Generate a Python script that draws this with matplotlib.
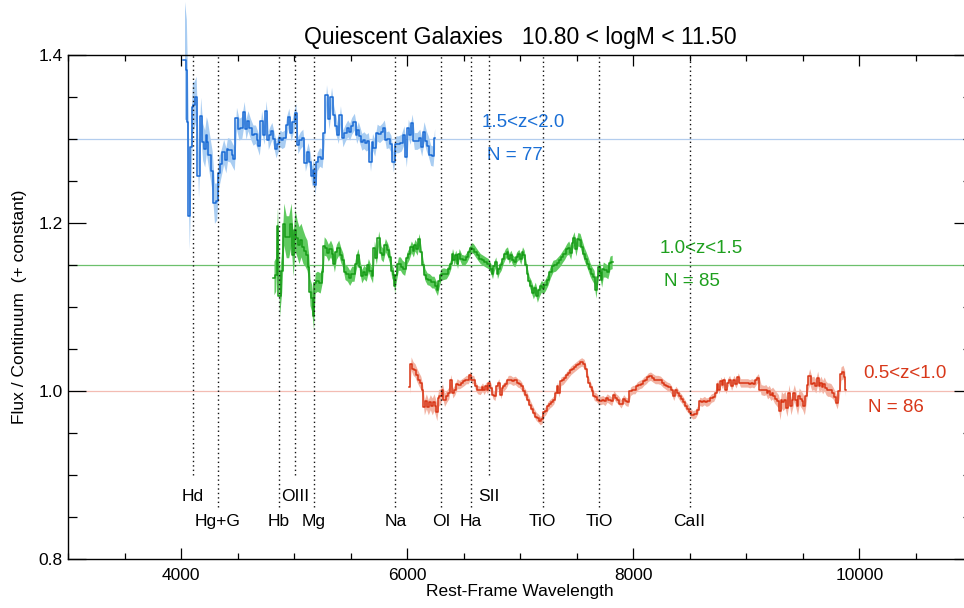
import numpy as np
import matplotlib
matplotlib.use("Agg")
import matplotlib.pyplot as plt
from matplotlib.ticker import MultipleLocator, FormatStrFormatter

plt.rcParams['font.family'] = ['Liberation Sans', 'DejaVu Sans']

title = "Quiescent Galaxies   10.80 < logM < 11.50"
xlabel = "Rest-Frame Wavelength"
ylabel = "Flux / Continuum  (+ constant)"

# ---- 1.5<z<2.0 (offset +0.3) ----
blue_wave = [4018, 4039, 4050, 4062, 4080, 4092, 4106, 4121, 4142, 4163,
             4180, 4198, 4216, 4227, 4239, 4263, 4283, 4304, 4322, 4339,
             4363, 4387, 4402, 4416, 4446, 4460, 4478, 4499, 4522, 4549,
             4564, 4581, 4599, 4623, 4646, 4667, 4682, 4699, 4723, 4741,
             4761, 4779, 4794, 4809, 4829, 4847, 4865, 4882, 4903, 4924,
             4942, 4962, 4982, 5006, 5021, 5042, 5065, 5086, 5110, 5133,
             5148, 5163, 5177, 5192, 5212, 5236, 5257, 5274, 5296, 5319,
             5340, 5358, 5381, 5398, 5419, 5440, 5464, 5481, 5499, 5517,
             5546, 5558, 5575, 5590, 5605, 5626, 5647, 5664, 5685, 5700,
             5723, 5744, 5765, 5788, 5805, 5823, 5847, 5862, 5891, 5906,
             5935, 5959, 5983, 6000, 6018, 6033, 6053, 6071, 6101, 6119,
             6136, 6160, 6177, 6195, 6219, 6236]
blue_end = 6248
blue_flux = [1.394, 1.383, 1.321, 1.209, 1.291, 1.339, 1.341, 1.350, 1.256, 1.328,
             1.297, 1.289, 1.305, 1.297, 1.281, 1.262, 1.224, 1.226, 1.260, 1.271,
             1.285, 1.275, 1.288, 1.287, 1.281, 1.277, 1.325, 1.312, 1.314, 1.332,
             1.312, 1.322, 1.313, 1.305, 1.306, 1.299, 1.292, 1.322, 1.305, 1.334,
             1.299, 1.305, 1.310, 1.300, 1.288, 1.295, 1.301, 1.299, 1.301, 1.317,
             1.326, 1.308, 1.321, 1.331, 1.293, 1.299, 1.302, 1.272, 1.285, 1.273,
             1.256, 1.264, 1.246, 1.273, 1.279, 1.277, 1.308, 1.353, 1.324, 1.350,
             1.329, 1.316, 1.305, 1.329, 1.301, 1.308, 1.313, 1.309, 1.316, 1.321,
             1.305, 1.311, 1.304, 1.297, 1.299, 1.296, 1.298, 1.273, 1.297, 1.290,
             1.308, 1.306, 1.309, 1.313, 1.299, 1.300, 1.295, 1.273, 1.294, 1.294,
             1.296, 1.305, 1.279, 1.313, 1.305, 1.319, 1.298, 1.298, 1.301, 1.291,
             1.309, 1.298, 1.292, 1.281, 1.280, 1.301]
blue_err = [0.070, 0.060, 0.050, 0.040, 0.035, 0.030, 0.028, 0.025, 0.025, 0.022,
            0.022, 0.022, 0.022, 0.024, 0.024, 0.024, 0.024, 0.022, 0.018, 0.016,
            0.015, 0.015, 0.014, 0.014, 0.014, 0.014, 0.013, 0.013, 0.013, 0.013,
            0.012, 0.012, 0.012, 0.012, 0.011, 0.011, 0.011, 0.012, 0.011, 0.012,
            0.011, 0.011, 0.010, 0.010, 0.010, 0.010, 0.010, 0.010, 0.010, 0.011,
            0.011, 0.010, 0.011, 0.012, 0.010, 0.010, 0.010, 0.010, 0.011, 0.011,
            0.012, 0.012, 0.012, 0.011, 0.011, 0.011, 0.012, 0.012, 0.012, 0.012,
            0.011, 0.011, 0.010, 0.011, 0.010, 0.010, 0.010, 0.010, 0.010, 0.010,
            0.010, 0.010, 0.010, 0.010, 0.010, 0.010, 0.010, 0.011, 0.010, 0.010,
            0.010, 0.010, 0.010, 0.010, 0.010, 0.010, 0.010, 0.012, 0.010, 0.010,
            0.010, 0.011, 0.012, 0.011, 0.011, 0.011, 0.010, 0.010, 0.011, 0.011,
            0.012, 0.012, 0.012, 0.012, 0.012, 0.012]

# ---- 1.0<z<1.5 (offset +0.15) ----
green_wave = [4814, 4826, 4844, 4858, 4880, 4897, 4918, 4939, 4962, 4982,
              4997, 5015, 5033, 5050, 5068, 5086, 5104, 5121, 5133, 5145,
              5163, 5177, 5192, 5216, 5242, 5257, 5272, 5292, 5310, 5331,
              5346, 5364, 5381, 5405, 5419, 5440, 5458, 5481, 5499, 5520,
              5537, 5552, 5575, 5588, 5605, 5626, 5647, 5664, 5685, 5700,
              5718, 5735, 5759, 5777, 5794, 5818, 5836, 5853, 5871, 5882,
              5894, 5912, 5930, 5947, 5965, 5988, 6009, 6024, 6048, 6059,
              6077, 6097, 6112, 6130, 6148, 6165, 6186, 6207, 6228, 6245,
              6260, 6274, 6289, 6307, 6334, 6357, 6378, 6393, 6407, 6422,
              6437, 6452, 6466, 6496, 6517, 6540, 6558, 6575, 6593, 6614,
              6634, 6658, 6681, 6703, 6732, 6747, 6761, 6776, 6791, 6805,
              6820, 6841, 6858, 6879, 6894, 6909, 6924, 6944, 6959, 6977,
              6997, 7012, 7027, 7042, 7057, 7071, 7086, 7107, 7124, 7142,
              7160, 7177, 7195, 7212, 7234, 7254, 7278, 7301, 7322, 7343,
              7361, 7381, 7402, 7420, 7437, 7455, 7469, 7484, 7499, 7520,
              7537, 7555, 7573, 7591, 7608, 7626, 7644, 7662, 7676, 7691,
              7704, 7714, 7726, 7743, 7765, 7785, 7803]
green_end = 7823
green_flux = [1.135, 1.139, 1.197, 1.114, 1.143, 1.199, 1.184, 1.184, 1.199, 1.162,
              1.192, 1.182, 1.174, 1.180, 1.172, 1.167, 1.162, 1.148, 1.118, 1.111,
              1.090, 1.129, 1.131, 1.129, 1.142, 1.173, 1.171, 1.165, 1.170, 1.164,
              1.152, 1.166, 1.171, 1.162, 1.156, 1.142, 1.140, 1.135, 1.140, 1.140,
              1.152, 1.162, 1.148, 1.137, 1.142, 1.139, 1.150, 1.143, 1.137, 1.171,
              1.159, 1.183, 1.165, 1.162, 1.174, 1.168, 1.160, 1.143, 1.139, 1.125,
              1.139, 1.152, 1.152, 1.148, 1.146, 1.159, 1.164, 1.172, 1.167, 1.174,
              1.169, 1.181, 1.166, 1.150, 1.139, 1.134, 1.133, 1.130, 1.130, 1.125,
              1.121, 1.131, 1.139, 1.140, 1.140, 1.145, 1.152, 1.164, 1.156, 1.162,
              1.152, 1.164, 1.157, 1.156, 1.160, 1.166, 1.171, 1.170, 1.166, 1.162,
              1.158, 1.156, 1.154, 1.152, 1.146, 1.140, 1.149, 1.154, 1.140, 1.146,
              1.150, 1.158, 1.164, 1.166, 1.158, 1.162, 1.156, 1.154, 1.160, 1.163,
              1.157, 1.166, 1.162, 1.150, 1.140, 1.131, 1.125, 1.117, 1.123, 1.113,
              1.120, 1.125, 1.123, 1.127, 1.133, 1.142, 1.149, 1.150, 1.153, 1.156,
              1.160, 1.164, 1.169, 1.171, 1.165, 1.177, 1.182, 1.169, 1.181, 1.180,
              1.172, 1.164, 1.158, 1.152, 1.145, 1.140, 1.136, 1.120, 1.136, 1.148,
              1.141, 1.133, 1.145, 1.144, 1.142, 1.153, 1.154]
green_err = [0.020, 0.020, 0.022, 0.025, 0.025, 0.025, 0.025, 0.025, 0.025, 0.025,
             0.025, 0.022, 0.022, 0.020, 0.020, 0.018, 0.018, 0.016, 0.016, 0.016,
             0.016, 0.012, 0.012, 0.012, 0.011, 0.011, 0.010, 0.010, 0.010, 0.010,
             0.010, 0.009, 0.009, 0.009, 0.009, 0.009, 0.009, 0.009, 0.009, 0.009,
             0.009, 0.008, 0.008, 0.008, 0.008, 0.008, 0.008, 0.008, 0.008, 0.008,
             0.008, 0.008, 0.008, 0.008, 0.008, 0.008, 0.008, 0.008, 0.008, 0.008,
             0.008, 0.008, 0.008, 0.008, 0.008, 0.007, 0.007, 0.007, 0.007, 0.007,
             0.007, 0.007, 0.007, 0.007, 0.007, 0.007, 0.007, 0.007, 0.007, 0.007,
             0.007, 0.007, 0.007, 0.007, 0.006, 0.006, 0.006, 0.006, 0.006, 0.006,
             0.006, 0.006, 0.006, 0.006, 0.006, 0.006, 0.006, 0.006, 0.006, 0.006,
             0.006, 0.006, 0.006, 0.006, 0.006, 0.006, 0.006, 0.006, 0.006, 0.006,
             0.006, 0.006, 0.006, 0.006, 0.006, 0.006, 0.006, 0.006, 0.006, 0.006,
             0.006, 0.006, 0.006, 0.006, 0.006, 0.006, 0.007, 0.007, 0.007, 0.007,
             0.007, 0.007, 0.007, 0.007, 0.007, 0.007, 0.007, 0.007, 0.007, 0.007,
             0.007, 0.007, 0.007, 0.008, 0.008, 0.008, 0.008, 0.008, 0.008, 0.008,
             0.008, 0.008, 0.008, 0.008, 0.008, 0.008, 0.008, 0.009, 0.009, 0.009,
             0.009, 0.009, 0.009, 0.008, 0.008, 0.008, 0.008]

# ---- 0.5<z<1.0 (offset 0) ----
red_wave = [6015, 6024, 6044, 6059, 6077, 6095, 6112, 6127, 6142, 6160,
            6177, 6195, 6212, 6230, 6242, 6254, 6269, 6283, 6304, 6319,
            6340, 6357, 6378, 6393, 6413, 6431, 6451, 6473, 6496, 6513,
            6531, 6549, 6564, 6579, 6596, 6614, 6632, 6658, 6673, 6688,
            6703, 6717, 6732, 6750, 6767, 6785, 6803, 6820, 6835, 6850,
            6867, 6885, 6903, 6924, 6944, 6968, 6986, 7004, 7021, 7042,
            7062, 7080, 7097, 7115, 7133, 7150, 7168, 7186, 7204, 7216,
            7234, 7251, 7269, 7287, 7307, 7322, 7336, 7351, 7369, 7387,
            7404, 7422, 7440, 7457, 7475, 7493, 7511, 7528, 7558, 7573,
            7588, 7602, 7617, 7632, 7646, 7664, 7681, 7699, 7720, 7741,
            7758, 7779, 7800, 7818, 7838, 7858, 7876, 7906, 7924, 7941,
            7965, 7986, 8006, 8024, 8044, 8066, 8083, 8104, 8124, 8142,
            8163, 8183, 8207, 8230, 8251, 8272, 8290, 8310, 8331, 8349,
            8367, 8384, 8402, 8420, 8438, 8458, 8479, 8496, 8514, 8538,
            8561, 8579, 8597, 8620, 8637, 8655, 8679, 8703, 8720, 8738,
            8752, 8767, 8782, 8796, 8811, 8826, 8843, 8861, 8879, 8900,
            8920, 8938, 8959, 8980, 9003, 9021, 9039, 9057, 9077, 9098,
            9116, 9146, 9166, 9181, 9196, 9210, 9225, 9240, 9258, 9275,
            9293, 9305, 9316, 9334, 9352, 9369, 9387, 9402, 9417, 9432,
            9446, 9461, 9476, 9491, 9505, 9523, 9535, 9550, 9571, 9588,
            9606, 9624, 9639, 9653, 9668, 9683, 9697, 9712, 9727, 9741,
            9759, 9776, 9794, 9815, 9829, 9847, 9865, 9876]
red_end = 9880
red_flux = [1.005, 1.033, 1.027, 1.025, 1.019, 1.014, 1.010, 1.001, 0.981, 0.988,
            0.981, 0.987, 0.982, 0.987, 0.982, 0.975, 0.992, 0.994, 1.001, 0.990,
            0.994, 0.998, 1.013, 0.998, 1.002, 1.009, 1.008, 1.010, 1.012, 1.014,
            1.014, 1.019, 1.014, 1.014, 1.006, 1.002, 1.001, 1.005, 1.001, 1.006,
            1.002, 1.010, 1.004, 0.996, 0.994, 1.006, 1.010, 0.996, 1.004, 1.006,
            1.009, 1.014, 1.014, 1.012, 1.013, 1.010, 1.009, 1.006, 1.000, 0.996,
            0.990, 0.984, 0.979, 0.974, 0.970, 0.968, 0.965, 0.967, 0.975, 0.977,
            0.982, 0.985, 0.987, 0.990, 0.998, 1.006, 0.998, 1.012, 1.013, 1.016,
            1.019, 1.022, 1.025, 1.027, 1.029, 1.031, 1.033, 1.035, 1.033, 1.026,
            1.017, 1.010, 1.005, 1.000, 0.994, 0.993, 0.990, 0.989, 0.990, 0.988,
            0.992, 0.990, 0.988, 0.996, 0.992, 0.990, 0.985, 0.991, 0.988, 0.987,
            1.000, 1.002, 1.002, 1.006, 1.008, 1.009, 1.012, 1.014, 1.017, 1.018,
            1.016, 1.014, 1.014, 1.013, 1.010, 1.008, 1.006, 1.005, 1.001, 0.994,
            1.001, 0.998, 0.994, 0.991, 0.987, 0.982, 0.979, 0.975, 0.972, 0.973,
            0.978, 0.988, 0.987, 0.989, 0.987, 0.988, 0.992, 0.993, 0.998, 1.009,
            1.002, 1.012, 1.008, 1.013, 1.002, 1.010, 1.014, 1.006, 1.014, 1.009,
            1.017, 1.010, 1.010, 1.010, 1.010, 1.009, 1.010, 1.009, 1.013, 1.016,
            1.002, 1.001, 1.002, 0.998, 1.000, 0.996, 0.998, 0.994, 0.991, 0.988,
            0.976, 0.990, 0.987, 0.990, 0.980, 0.998, 0.982, 0.990, 0.998, 0.990,
            0.982, 0.994, 0.991, 0.988, 0.982, 0.994, 1.008, 1.018, 1.009, 1.010,
            1.006, 1.016, 1.006, 1.010, 1.005, 1.009, 1.004, 1.002, 1.002, 1.001,
            0.998, 0.993, 0.986, 1.000, 1.021, 1.023, 1.017, 1.002]
red_err = [0.008, 0.008, 0.008, 0.008, 0.008, 0.008, 0.008, 0.008, 0.009, 0.009,
           0.009, 0.009, 0.010, 0.010, 0.010, 0.010, 0.010, 0.009, 0.008, 0.008,
           0.007, 0.007, 0.007, 0.006, 0.006, 0.006, 0.005, 0.005, 0.005, 0.005,
           0.005, 0.005, 0.005, 0.005, 0.005, 0.005, 0.005, 0.005, 0.005, 0.005,
           0.005, 0.005, 0.005, 0.005, 0.005, 0.005, 0.005, 0.005, 0.005, 0.005,
           0.005, 0.005, 0.005, 0.005, 0.005, 0.005, 0.005, 0.005, 0.005, 0.005,
           0.005, 0.005, 0.005, 0.005, 0.005, 0.005, 0.005, 0.005, 0.005, 0.005,
           0.005, 0.005, 0.005, 0.005, 0.005, 0.005, 0.005, 0.005, 0.005, 0.005,
           0.005, 0.005, 0.005, 0.005, 0.005, 0.005, 0.005, 0.005, 0.005, 0.005,
           0.005, 0.005, 0.005, 0.005, 0.005, 0.005, 0.005, 0.005, 0.005, 0.005,
           0.005, 0.005, 0.005, 0.005, 0.005, 0.005, 0.005, 0.005, 0.005, 0.005,
           0.005, 0.005, 0.005, 0.005, 0.005, 0.005, 0.005, 0.005, 0.005, 0.005,
           0.005, 0.005, 0.005, 0.005, 0.005, 0.005, 0.005, 0.005, 0.005, 0.005,
           0.005, 0.005, 0.005, 0.005, 0.005, 0.005, 0.005, 0.005, 0.005, 0.005,
           0.005, 0.005, 0.005, 0.005, 0.005, 0.005, 0.005, 0.005, 0.005, 0.005,
           0.005, 0.005, 0.005, 0.005, 0.005, 0.005, 0.005, 0.005, 0.005, 0.005,
           0.005, 0.005, 0.005, 0.005, 0.005, 0.005, 0.005, 0.005, 0.005, 0.005,
           0.006, 0.006, 0.006, 0.007, 0.007, 0.007, 0.007, 0.008, 0.008, 0.008,
           0.010, 0.010, 0.010, 0.010, 0.010, 0.010, 0.010, 0.010, 0.010, 0.010,
           0.010, 0.010, 0.010, 0.010, 0.010, 0.009, 0.009, 0.009, 0.008, 0.008,
           0.008, 0.008, 0.008, 0.008, 0.008, 0.008, 0.008, 0.008, 0.008, 0.008,
           0.007, 0.007, 0.007, 0.008, 0.008, 0.008, 0.008, 0.008]

series_labels = ["1.5<z<2.0", "1.0<z<1.5", "0.5<z<1.0"]
series_counts = ["N = 77", "N = 85", "N = 86"]
series_levels = [1.30, 1.15, 1.00]

# spectral features
feature_names = ["Hd", "Hg+G", "Hb", "OIII", "Mg", "Na", "OI", "Ha", "SII",
                 "TiO", "TiO", "CaII"]
feature_waves = [4102, 4325, 4862, 5007, 5175, 5895, 6300, 6563, 6725,
                 7198, 7697, 8498]
feature_rows = [1, 2, 2, 1, 2, 2, 2, 2, 1, 2, 2, 2]

line_colors = ["#1a6ad4", "#169a16", "#d83414"]
band_colors = ["#a9cdf2", "#5fca5f", "#f2b3a3"]
hline_colors = ["#b3cdee", "#6cc06c", "#f3bcb3"]
text_colors = ["#1a6fd6", "#1ea01e", "#d8381a"]

fig = plt.figure(figsize=(9.64, 6.08), dpi=100)
ax = fig.add_axes([68.3 / 964, 1 - 559.3 / 608, (972.3 - 68.3) / 964, (559.3 - 55.3) / 608])
ax.set_xlim(3000, 11000)
ax.set_ylim(0.8, 1.4)

series = [(blue_wave, blue_end, blue_flux, blue_err),
          (green_wave, green_end, green_flux, green_err),
          (red_wave, red_end, red_flux, red_err)]

for i, lev in enumerate(series_levels):
    ax.axhline(lev, color=hline_colors[i], lw=0.9, zorder=1)

for i, (w, wend, f, e) in enumerate(series):
    edges = np.array(w + [wend], dtype=float)
    centers = 0.5 * (edges[:-1] + edges[1:])
    fl = np.array(f)
    er = np.array(e)
    ax.fill_between(centers, fl - er, fl + er, color=band_colors[i],
                    lw=0, zorder=2, clip_on=False)
    ax.step(edges, np.append(fl, fl[-1]), where='post', color=line_colors[i],
            lw=1.1, zorder=3)

row_top = {1: 0.900, 2: 0.862}
row_text = {1: 0.8694, 2: 0.8396}
for name, wl, row in zip(feature_names, feature_waves, feature_rows):
    ax.plot([wl, wl], [row_top[row], 1.4], color="#111111", lw=1.0,
            linestyle=(0, (1, 2.2)), zorder=4)
    ax.text(wl, row_text[row], name, ha='center', va='baseline', fontsize=12.5,
            color='black')

label_pos = [(6662, 1.315, 6705, 1.2754), (8236, 1.1643, 8271, 1.1254),
             (10032, 1.0155, 10077, 0.975)]
for i, (x1, y1, x2, y2) in enumerate(label_pos):
    ax.text(x1, y1, series_labels[i], color=text_colors[i], fontsize=13.5,
            ha='left', va='baseline')
    ax.text(x2, y2, series_counts[i], color=text_colors[i], fontsize=13.5,
            ha='left', va='baseline')

ax.xaxis.set_major_locator(MultipleLocator(2000))
ax.xaxis.set_minor_locator(MultipleLocator(500))
ax.yaxis.set_major_locator(MultipleLocator(0.2))
ax.yaxis.set_minor_locator(MultipleLocator(0.05))
ax.yaxis.set_major_formatter(FormatStrFormatter('%.1f'))
ax.tick_params(axis='x', which='major', direction='in', length=8, width=0.9,
               top=True, labelsize=12.5, pad=6)
ax.tick_params(axis='x', which='minor', direction='in', length=4, width=0.9, top=True)
ax.tick_params(axis='y', which='major', direction='in', length=13, width=0.9,
               right=True, labelsize=12.5, pad=4)
ax.tick_params(axis='y', which='minor', direction='in', length=6.5, width=0.9, right=True)
for s in ax.spines.values():
    s.set_linewidth(1.0)

ax.set_title(title, fontsize=16.5, pad=8)
ax.set_xlabel(xlabel, fontsize=12.5, labelpad=1)
ax.set_ylabel(ylabel, fontsize=12.5, labelpad=8)

fig.savefig("out.png", dpi=100)
